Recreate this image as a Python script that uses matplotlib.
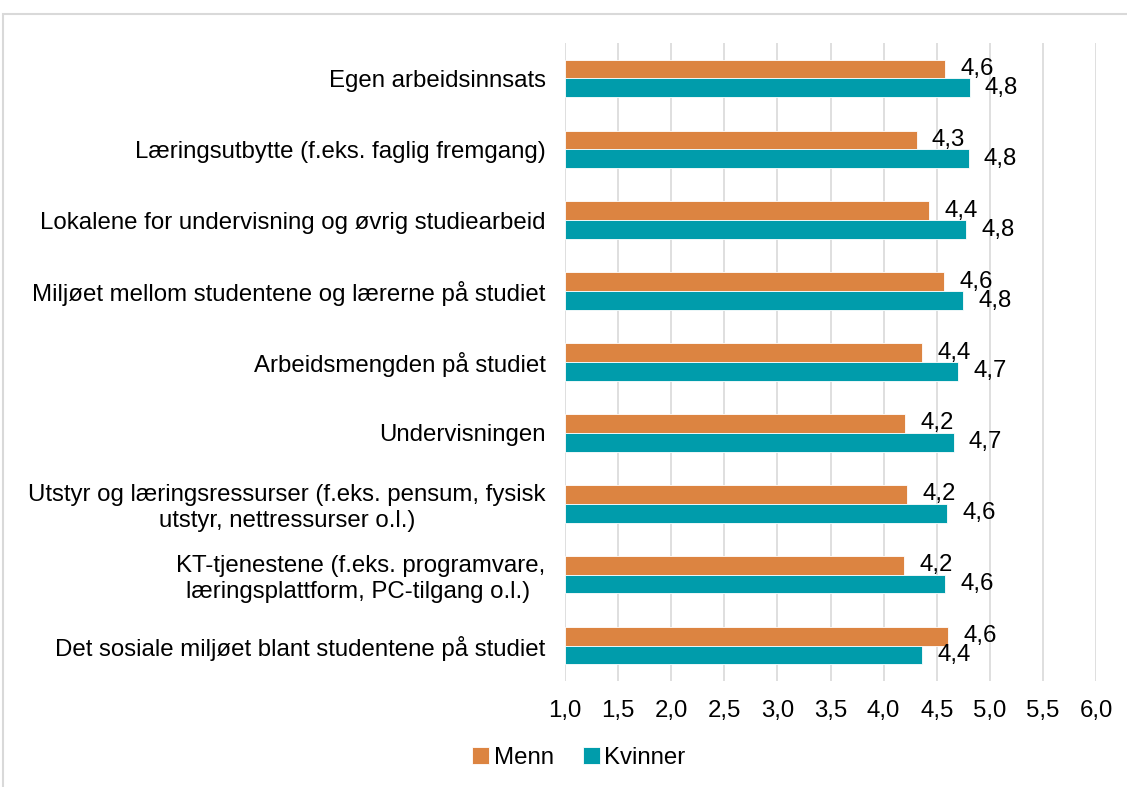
import matplotlib.pyplot as plt
from matplotlib.patches import Rectangle
import numpy as np

plt.rcParams['font.family'] = ['Liberation Sans', 'DejaVu Sans']

categories = [
    "Egen arbeidsinnsats",
    "Læringsutbytte (f.eks. faglig fremgang)",
    "Lokalene for undervisning og øvrig studiearbeid",
    "Miljøet mellom studentene og lærerne på studiet",
    "Arbeidsmengden på studiet",
    "Undervisningen",
    "Utstyr og læringsressurser (f.eks. pensum, fysisk\nutstyr, nettressurser o.l.)",
    "KT-tjenestene (f.eks. programvare,\nlæringsplattform, PC-tilgang o.l.) ",
    "Det sosiale miljøet blant studentene på studiet",
]
menn = [4.58, 4.31, 4.43, 4.57, 4.36, 4.20, 4.22, 4.19, 4.61]
kvinner = [4.81, 4.80, 4.78, 4.75, 4.70, 4.66, 4.60, 4.58, 4.36]
xticks = [1.0, 1.5, 2.0, 2.5, 3.0, 3.5, 4.0, 4.5, 5.0, 5.5, 6.0]

c_menn = "#DC8441"
c_kvinner = "#009CAB"
fs = 17.3

W, H = 1127, 787
fig = plt.figure(figsize=(W / 100, H / 100), dpi=100)
ax = fig.add_axes([565 / W, 1 - 681 / H, (1096 - 565) / W, (681 - 43) / H])

y = np.arange(len(categories))
bh = 0.265
base = 1.0
bm = ax.barh(y - bh / 2, np.array(menn) - base, left=base, height=bh,
             color=c_menn, edgecolor="white", linewidth=0.6, label="Menn", zorder=3)
bk = ax.barh(y + bh / 2, np.array(kvinner) - base, left=base, height=bh,
             color=c_kvinner, edgecolor="white", linewidth=0.6, label="Kvinner", zorder=3)

# value labels, comma as decimal sign
for yy, v in zip(y, menn):
    ax.annotate(f"{v:.1f}".replace(".", ","), (v, yy - bh / 2), xytext=(11, 0),
                textcoords="offset points", va="center", ha="left", fontsize=fs)
for yy, v in zip(y, kvinner):
    ax.annotate(f"{v:.1f}".replace(".", ","), (v, yy + bh / 2), xytext=(11, 0),
                textcoords="offset points", va="center", ha="left", fontsize=fs)

ax.set_xlim(1.0, 6.0)
ax.set_ylim(len(categories) - 0.5, -0.5)
ax.set_xticks(xticks)
ax.set_xticklabels([f"{t:.1f}".replace(".", ",") for t in xticks], fontsize=fs)
ax.set_yticks(y)
ax.set_yticklabels(categories, fontsize=fs)
for lbl in ax.get_yticklabels():
    lbl.set_multialignment("center")
ax.tick_params(axis="both", length=0)
ax.tick_params(axis="y", pad=14)
ax.tick_params(axis="x", pad=14)
ax.grid(axis="x", color="#D9D9D9", linewidth=1.2, zorder=0)
ax.set_axisbelow(True)
for s in ax.spines.values():
    s.set_visible(False)

fig.legend(handles=[bm, bk], loc="center", bbox_to_anchor=(579 / W, 1 - 758 / H),
           ncol=2, frameon=False, fontsize=fs, handlelength=0.7, handleheight=0.7,
           handletextpad=0.2, columnspacing=1.2)

fig.add_artist(Rectangle((3 / W, -0.1), 2, 1.1 - 14 / H, transform=fig.transFigure,
                         fill=False, edgecolor="#D9D9D9", linewidth=1.5))

fig.savefig("out.png", dpi=100)
